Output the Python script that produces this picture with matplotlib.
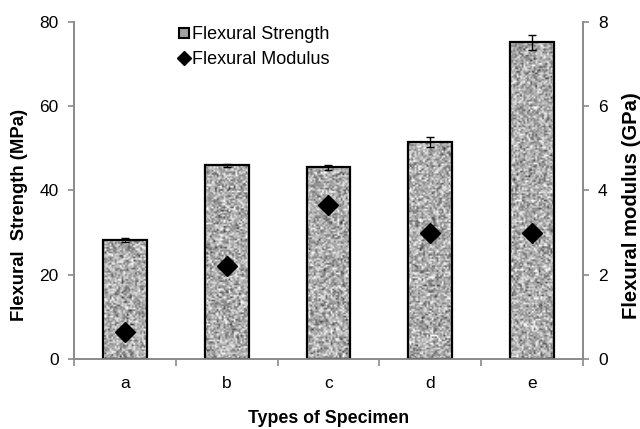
import matplotlib

matplotlib.use("Agg")
import matplotlib.pyplot as plt
import numpy as np
from matplotlib.lines import Line2D

plt.rcParams["font.family"] = ["Liberation Sans", "DejaVu Sans"]

specimens = ["a", "b", "c", "d", "e"]
strength = [28.3, 46.0, 45.5, 51.5, 75.2]
strength_err = [0.5, 0.4, 0.6, 1.3, 1.8]
modulus = [0.65, 2.2, 3.65, 3.0, 3.0]

axis_grey = "#8a8a8a"

fig = plt.figure(figsize=(6.4, 4.29), dpi=100)
ax = fig.add_axes([0.1156, 0.163, 0.795, 0.786])
ax2 = ax.twinx()

x = np.arange(len(specimens))
width = 0.43
bars = ax.bar(x, strength, width=width, facecolor="none", edgecolor="black",
              linewidth=1.6, zorder=3)
ax.errorbar(x, strength, yerr=strength_err, fmt="none", ecolor="black",
            elinewidth=1.0, capsize=3, capthick=1.0, zorder=4)

# speckled grey texture inside each bar
rng = np.random.default_rng(3)
for b in bars:
    x0, y0 = b.get_x(), b.get_y()
    w, h = b.get_width(), b.get_height()
    noise = rng.normal(0.68, 0.17, size=(int(h * 2.6) + 2, 26)).clip(0.15, 1.0)
    im = ax.imshow(noise, cmap="gray", vmin=0, vmax=1, extent=(x0, x0 + w, y0, y0 + h),
                   aspect="auto", interpolation="bilinear", zorder=2, origin="lower")
    im.set_clip_path(b)

ax2.plot(x, modulus, linestyle="none", marker="D", markersize=10, color="black", zorder=5)

ax.set_xlim(-0.5, len(specimens) - 0.5)
ax.set_ylim(0, 80)
ax2.set_ylim(0, 8)
ax.set_yticks([0, 20, 40, 60, 80])
ax2.set_yticks([0, 2, 4, 6, 8])
ax.set_xticks(x)
ax.set_xticklabels(specimens)
ax.set_xticks(np.arange(-0.5, len(specimens)), minor=True)

for a in (ax, ax2):
    a.spines["top"].set_visible(False)
    for s in ("left", "right", "bottom"):
        a.spines[s].set_color(axis_grey)
        a.spines[s].set_linewidth(1.2)
    a.tick_params(axis="y", colors=axis_grey, labelcolor="black", labelsize=12.5,
                  length=4, width=1.2, direction="out", pad=7)
ax.set_zorder(ax2.get_zorder() - 1)
ax2.patch.set_visible(False)
ax.tick_params(axis="x", which="major", length=0, labelsize=12.5, pad=12)
ax.tick_params(axis="x", which="minor", length=5, width=1.2, color=axis_grey, direction="out")

ax.set_ylabel("Flexural  Strength (MPa)", fontsize=13.3, fontweight="bold", labelpad=8, y=0.427)
ax2.set_ylabel("Flexural modulus (GPa)", fontsize=14.6, fontweight="bold", labelpad=10, y=0.454)
ax.set_xlabel("Types of Specimen", fontsize=12.8, fontweight="bold", labelpad=14)

handles = [
    Line2D([], [], linestyle="none", marker="s", markersize=7.5, markerfacecolor="#a0a0a0",
           markeredgecolor="black", markeredgewidth=1.5),
    Line2D([], [], linestyle="none", marker="D", markersize=7.5, color="black"),
]
ax.legend(handles, ["Flexural Strength", "Flexural Modulus"], loc="upper left",
          bbox_to_anchor=(0.17, 1.035), frameon=False, fontsize=13,
          handletextpad=0.05, handlelength=0.8, labelspacing=0.45)

fig.savefig("out.png", dpi=100)
